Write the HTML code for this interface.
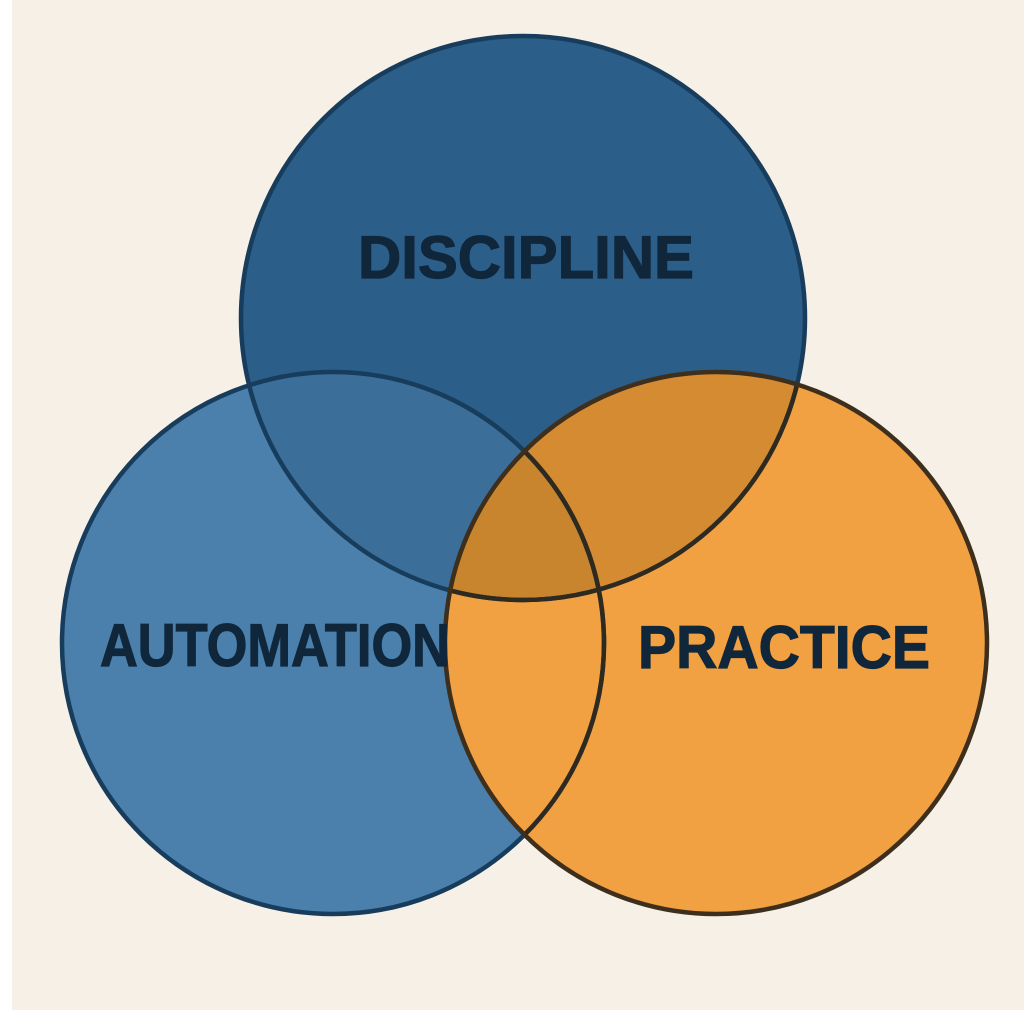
<!DOCTYPE html>
<html><head><style>html,body{margin:0;padding:0;background:#f6f0e6;}svg{display:block}</style></head>
<body>
<svg width="1024" height="1010" viewBox="0 0 1024 1010" xmlns="http://www.w3.org/2000/svg">
<defs>
<clipPath id="cT"><circle cx="523" cy="318" r="282"/></clipPath>
<clipPath id="cL"><circle cx="333" cy="643" r="271"/></clipPath>
<clipPath id="cR"><circle cx="716" cy="643" r="271"/></clipPath>
</defs>
<rect width="1024" height="1010" fill="#f6f0e6"/>
<rect width="12" height="1010" fill="#ffffff"/>
<circle cx="333" cy="643" r="271" fill="#4a80ab"/>
<circle cx="523" cy="318" r="282" fill="#2b5e89"/>
<g clip-path="url(#cT)"><circle cx="333" cy="643" r="271" fill="#3b6e98"/></g>
<circle cx="716" cy="643" r="271" fill="#f1a042"/>
<g clip-path="url(#cT)"><circle cx="716" cy="643" r="271" fill="#d58b31"/></g>
<g clip-path="url(#cT)"><g clip-path="url(#cL)"><circle cx="716" cy="643" r="271" fill="#c9842e"/></g></g>
<circle cx="333" cy="643" r="271" fill="none" stroke="#173c5c" stroke-width="4.5"/>
<circle cx="523" cy="318" r="282" fill="none" stroke="#173c5c" stroke-width="4.5"/>
<g clip-path="url(#cR)">
<circle cx="333" cy="643" r="271" fill="none" stroke="#2e2a20" stroke-width="4.5"/>
<circle cx="523" cy="318" r="282" fill="none" stroke="#2e2a20" stroke-width="4.5"/>
</g>
<circle cx="716" cy="643" r="271" fill="none" stroke="#3e2e1c" stroke-width="4.5"/>
<g font-family="Liberation Sans, sans-serif" font-weight="bold" font-size="60" fill="#10263a" stroke="#10263a" stroke-width="1.2">
<text x="358" y="278" textLength="336" lengthAdjust="spacingAndGlyphs">DISCIPLINE</text>
<text x="100" y="666" textLength="350" lengthAdjust="spacingAndGlyphs">AUTOMATION</text>
<text x="638" y="668" textLength="292" lengthAdjust="spacingAndGlyphs">PRACTICE</text>
</g>
</svg>
</body></html>
